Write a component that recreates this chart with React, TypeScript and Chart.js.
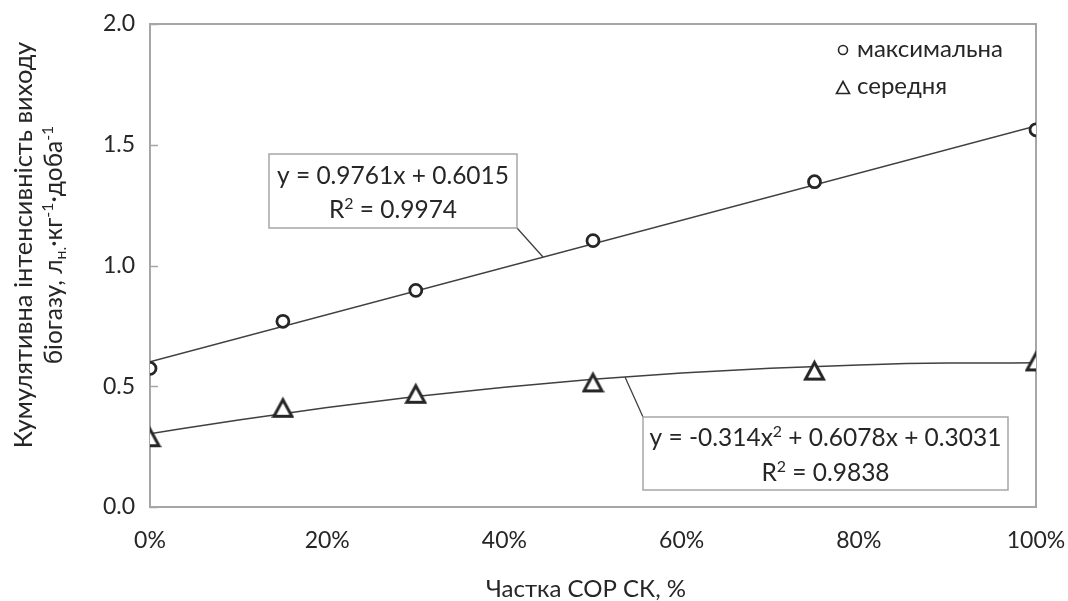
import React, { useEffect, useRef } from 'react';
import { Chart, registerables } from 'chart.js';

Chart.register(...registerables);

// ---------- data ----------
const xShare = [0, 15, 30, 50, 75, 100];
const maxValues = [0.574, 0.769, 0.897, 1.103, 1.347, 1.562];
const avgValues = [0.291, 0.413, 0.471, 0.518, 0.567, 0.605];
const linTrendX = [0, 100];
const linTrendY = [0.6015, 1.5776];
const polyTrendX = [0, 10, 20, 30, 40, 50, 60, 70, 80, 90, 100];
const polyTrendY = [0.3031, 0.3607, 0.4121, 0.4572, 0.496, 0.5285, 0.5547, 0.5747, 0.5884, 0.5958, 0.5969];
const xTickValues = [0, 20, 40, 60, 80, 100];
const yTickValues = [0, 0.5, 1.0, 1.5, 2.0];
const seriesNames = ['максимальна', 'середня'];
const xTitle = 'Частка СОР СК, %';
const yTitleLine1 = 'Кумулятивна інтенсивність виходу';

type Seg = { t: string; s?: 'sup' | 'sub' };
const yTitleLine2: Seg[] = [
  { t: 'біогазу, л' },
  { t: 'н.', s: 'sub' },
  { t: '·кг' },
  { t: '-1', s: 'sup' },
  { t: '·доба' },
  { t: '-1', s: 'sup' },
];
const eq1Line1: Seg[] = [{ t: 'y = 0.9761x + 0.6015' }];
const eq1Line2: Seg[] = [{ t: 'R' }, { t: '2', s: 'sup' }, { t: ' = 0.9974' }];
const eq2Line1: Seg[] = [{ t: 'y = -0.314x' }, { t: '2', s: 'sup' }, { t: ' + 0.6078x + 0.3031' }];
const eq2Line2: Seg[] = [{ t: 'R' }, { t: '2', s: 'sup' }, { t: ' = 0.9838' }];

const FONT = 'Lato, "Noto Sans", sans-serif';
const INK = '#262626';
const MARK = '#262626';
const FRAME = '#a6a6a6';

function fontStr(size: number) {
  return `${size}px ${FONT}`;
}

function richWidth(ctx: CanvasRenderingContext2D, segs: Seg[], size: number) {
  let w = 0;
  for (const sg of segs) {
    ctx.font = fontStr(sg.s ? size * 0.65 : size);
    w += ctx.measureText(sg.t).width;
  }
  return w;
}

function drawRich(
  ctx: CanvasRenderingContext2D,
  segs: Seg[],
  x: number,
  y: number,
  size: number,
  align: 'left' | 'center'
) {
  const w = richWidth(ctx, segs, size);
  let cx = align === 'center' ? x - w / 2 : x;
  ctx.textAlign = 'left';
  ctx.textBaseline = 'alphabetic';
  for (const sg of segs) {
    const sz = sg.s ? size * 0.65 : size;
    ctx.font = fontStr(sz);
    let dy = 0;
    if (sg.s === 'sup') dy = -size * 0.36;
    if (sg.s === 'sub') dy = size * 0.16;
    ctx.fillText(sg.t, cx, y + dy);
    cx += ctx.measureText(sg.t).width;
  }
}

function makeTriangle(size: number, lw: number, color: string) {
  const c = document.createElement('canvas');
  c.width = size;
  c.height = size;
  const g = c.getContext('2d')!;
  const pad = lw / 2 + 1;
  const h = size - 2 * pad;
  g.beginPath();
  g.moveTo(size / 2, pad + 1.5);
  g.lineTo(size - pad, pad + h);
  g.lineTo(pad, pad + h);
  g.closePath();
  g.fillStyle = '#ffffff';
  g.fill();
  g.lineJoin = 'miter';
  g.lineWidth = lw;
  g.strokeStyle = color;
  g.stroke();
  return c;
}

const decorPlugin = {
  id: 'decor',
  beforeDatasetsDraw(chart: any) {
    const { ctx, chartArea, scales } = chart;
    ctx.save();
    ctx.strokeStyle = FRAME;
    ctx.lineWidth = 1.5;
    for (const v of yTickValues) {
      const y = Math.round(scales.y.getPixelForValue(v)) + 0.5;
      ctx.beginPath();
      ctx.moveTo(chartArea.left, y);
      ctx.lineTo(chartArea.left + 8, y);
      ctx.stroke();
    }
    ctx.lineWidth = 2;
    ctx.strokeRect(chartArea.left, chartArea.top, chartArea.right - chartArea.left, chartArea.bottom - chartArea.top);
    ctx.restore();
  },
  afterDraw(chart: any) {
    const { ctx, chartArea } = chart;
    ctx.save();
    ctx.fillStyle = INK;

    // leader lines
    ctx.strokeStyle = '#404040';
    ctx.lineWidth = 1.3;
    ctx.beginPath();
    ctx.moveTo(517, 228);
    ctx.lineTo(543, 257);
    ctx.moveTo(643, 417);
    ctx.lineTo(625, 377);
    ctx.stroke();

    // equation boxes
    const boxes = [
      { x0: 269, y0: 154, x1: 517, y1: 228, l1: eq1Line1, l2: eq1Line2, b1: 184, b2: 218 },
      { x0: 643, y0: 417, x1: 1008, y1: 490, l1: eq2Line1, l2: eq2Line2, b1: 446, b2: 481 },
    ];
    for (const b of boxes) {
      ctx.fillStyle = '#ffffff';
      ctx.fillRect(b.x0, b.y0, b.x1 - b.x0, b.y1 - b.y0);
      ctx.strokeStyle = FRAME;
      ctx.lineWidth = 1.5;
      ctx.strokeRect(b.x0, b.y0, b.x1 - b.x0, b.y1 - b.y0);
      ctx.fillStyle = INK;
      const cx = (b.x0 + b.x1) / 2;
      drawRich(ctx, b.l1, cx, b.b1, 24.5, 'center');
      drawRich(ctx, b.l2, cx, b.b2, 24.5, 'center');
    }

    // legend
    const lx = chartArea.right - 193;
    ctx.strokeStyle = MARK;
    ctx.lineWidth = 1.6;
    ctx.beginPath();
    ctx.arc(lx, chartArea.top + 26, 4.5, 0, Math.PI * 2);
    ctx.stroke();
    const ty = chartArea.top + 64;
    ctx.beginPath();
    ctx.moveTo(lx, ty - 6.5);
    ctx.lineTo(lx + 6.5, ty + 5.5);
    ctx.lineTo(lx - 6.5, ty + 5.5);
    ctx.closePath();
    ctx.stroke();
    ctx.fillStyle = INK;
    ctx.font = fontStr(24);
    ctx.textAlign = 'left';
    ctx.textBaseline = 'alphabetic';
    ctx.fillText(seriesNames[0], lx + 14, chartArea.top + 33);
    ctx.fillText(seriesNames[1], lx + 14, chartArea.top + 70);

    // x title
    ctx.textAlign = 'center';
    ctx.font = fontStr(24);
    ctx.fillText(xTitle, 586, 597);

    // y title
    ctx.save();
    ctx.translate(0, 245);
    ctx.rotate(-Math.PI / 2);
    ctx.textAlign = 'center';
    ctx.font = fontStr(25.5);
    ctx.fillText(yTitleLine1, 0, 32);
    drawRich(ctx, yTitleLine2, 0, 62, 24.5, 'center');
    ctx.restore();

    ctx.restore();
  },
};

export default function App() {
  const ref = useRef<HTMLCanvasElement | null>(null);

  useEffect(() => {
    if (!ref.current) return;
    const tri = makeTriangle(23, 3, MARK);
    const chart = new Chart(ref.current, {
      type: 'scatter',
      data: {
        datasets: [
          {
            label: seriesNames[0],
            data: xShare.map((x, i) => ({ x, y: maxValues[i] })),
            pointStyle: 'circle',
            pointRadius: 6,
            pointBorderWidth: 2.8,
            pointBorderColor: MARK,
            pointBackgroundColor: '#ffffff',
            showLine: false,
          },
          {
            label: seriesNames[1],
            data: xShare.map((x, i) => ({ x, y: avgValues[i] })),
            pointStyle: tri as any,
            pointRadius: 10,
            showLine: false,
          },
          {
            label: 'trend-lin',
            data: linTrendX.map((x, i) => ({ x, y: linTrendY[i] })),
            showLine: true,
            pointRadius: 0,
            borderColor: '#404040',
            borderWidth: 1.5,
          },
          {
            label: 'trend-poly',
            data: polyTrendX.map((x, i) => ({ x, y: polyTrendY[i] })),
            showLine: true,
            pointRadius: 0,
            borderColor: '#404040',
            borderWidth: 1.5,
            cubicInterpolationMode: 'monotone',
          },
        ],
      },
      options: {
        animation: false,
        responsive: false,
        devicePixelRatio: 1,
        layout: { padding: { left: 0, right: 32, top: 24, bottom: 0 } },
        plugins: {
          legend: { display: false },
          tooltip: { enabled: false },
          title: { display: false },
        },
        scales: {
          x: {
            type: 'linear',
            min: 0,
            max: 100,
            afterFit: (s: any) => {
              s.height = 94;
              s.paddingLeft = 0;
              s.paddingRight = 0;
            },
            afterBuildTicks: (s: any) => {
              s.ticks = xTickValues.map((v) => ({ value: v }));
            },
            grid: { display: false, drawTicks: false },
            border: { display: false },
            ticks: {
              padding: 20,
              color: INK,
              font: { family: FONT, size: 23 },
              callback: (v: any) => `${v}%`,
              maxRotation: 0,
            },
          },
          y: {
            type: 'linear',
            min: 0,
            max: 2,
            afterFit: (s: any) => {
              s.width = 150;
              s.paddingTop = 0;
              s.paddingBottom = 0;
            },
            afterBuildTicks: (s: any) => {
              s.ticks = yTickValues.map((v) => ({ value: v }));
            },
            grid: { display: false, drawTicks: false },
            border: { display: false },
            ticks: {
              padding: 15,
              color: INK,
              font: { family: FONT, size: 23 },
              callback: (v: any) => Number(v).toFixed(1),
            },
          },
        },
      },
      plugins: [decorPlugin],
    });
    return () => chart.destroy();
  }, []);

  return (
    <div style={{ position: 'fixed', left: 0, top: 0, width: 1068, height: 601, background: '#ffffff' }}>
      <canvas ref={ref} width={1068} height={601} style={{ display: 'block' }} />
    </div>
  );
}
